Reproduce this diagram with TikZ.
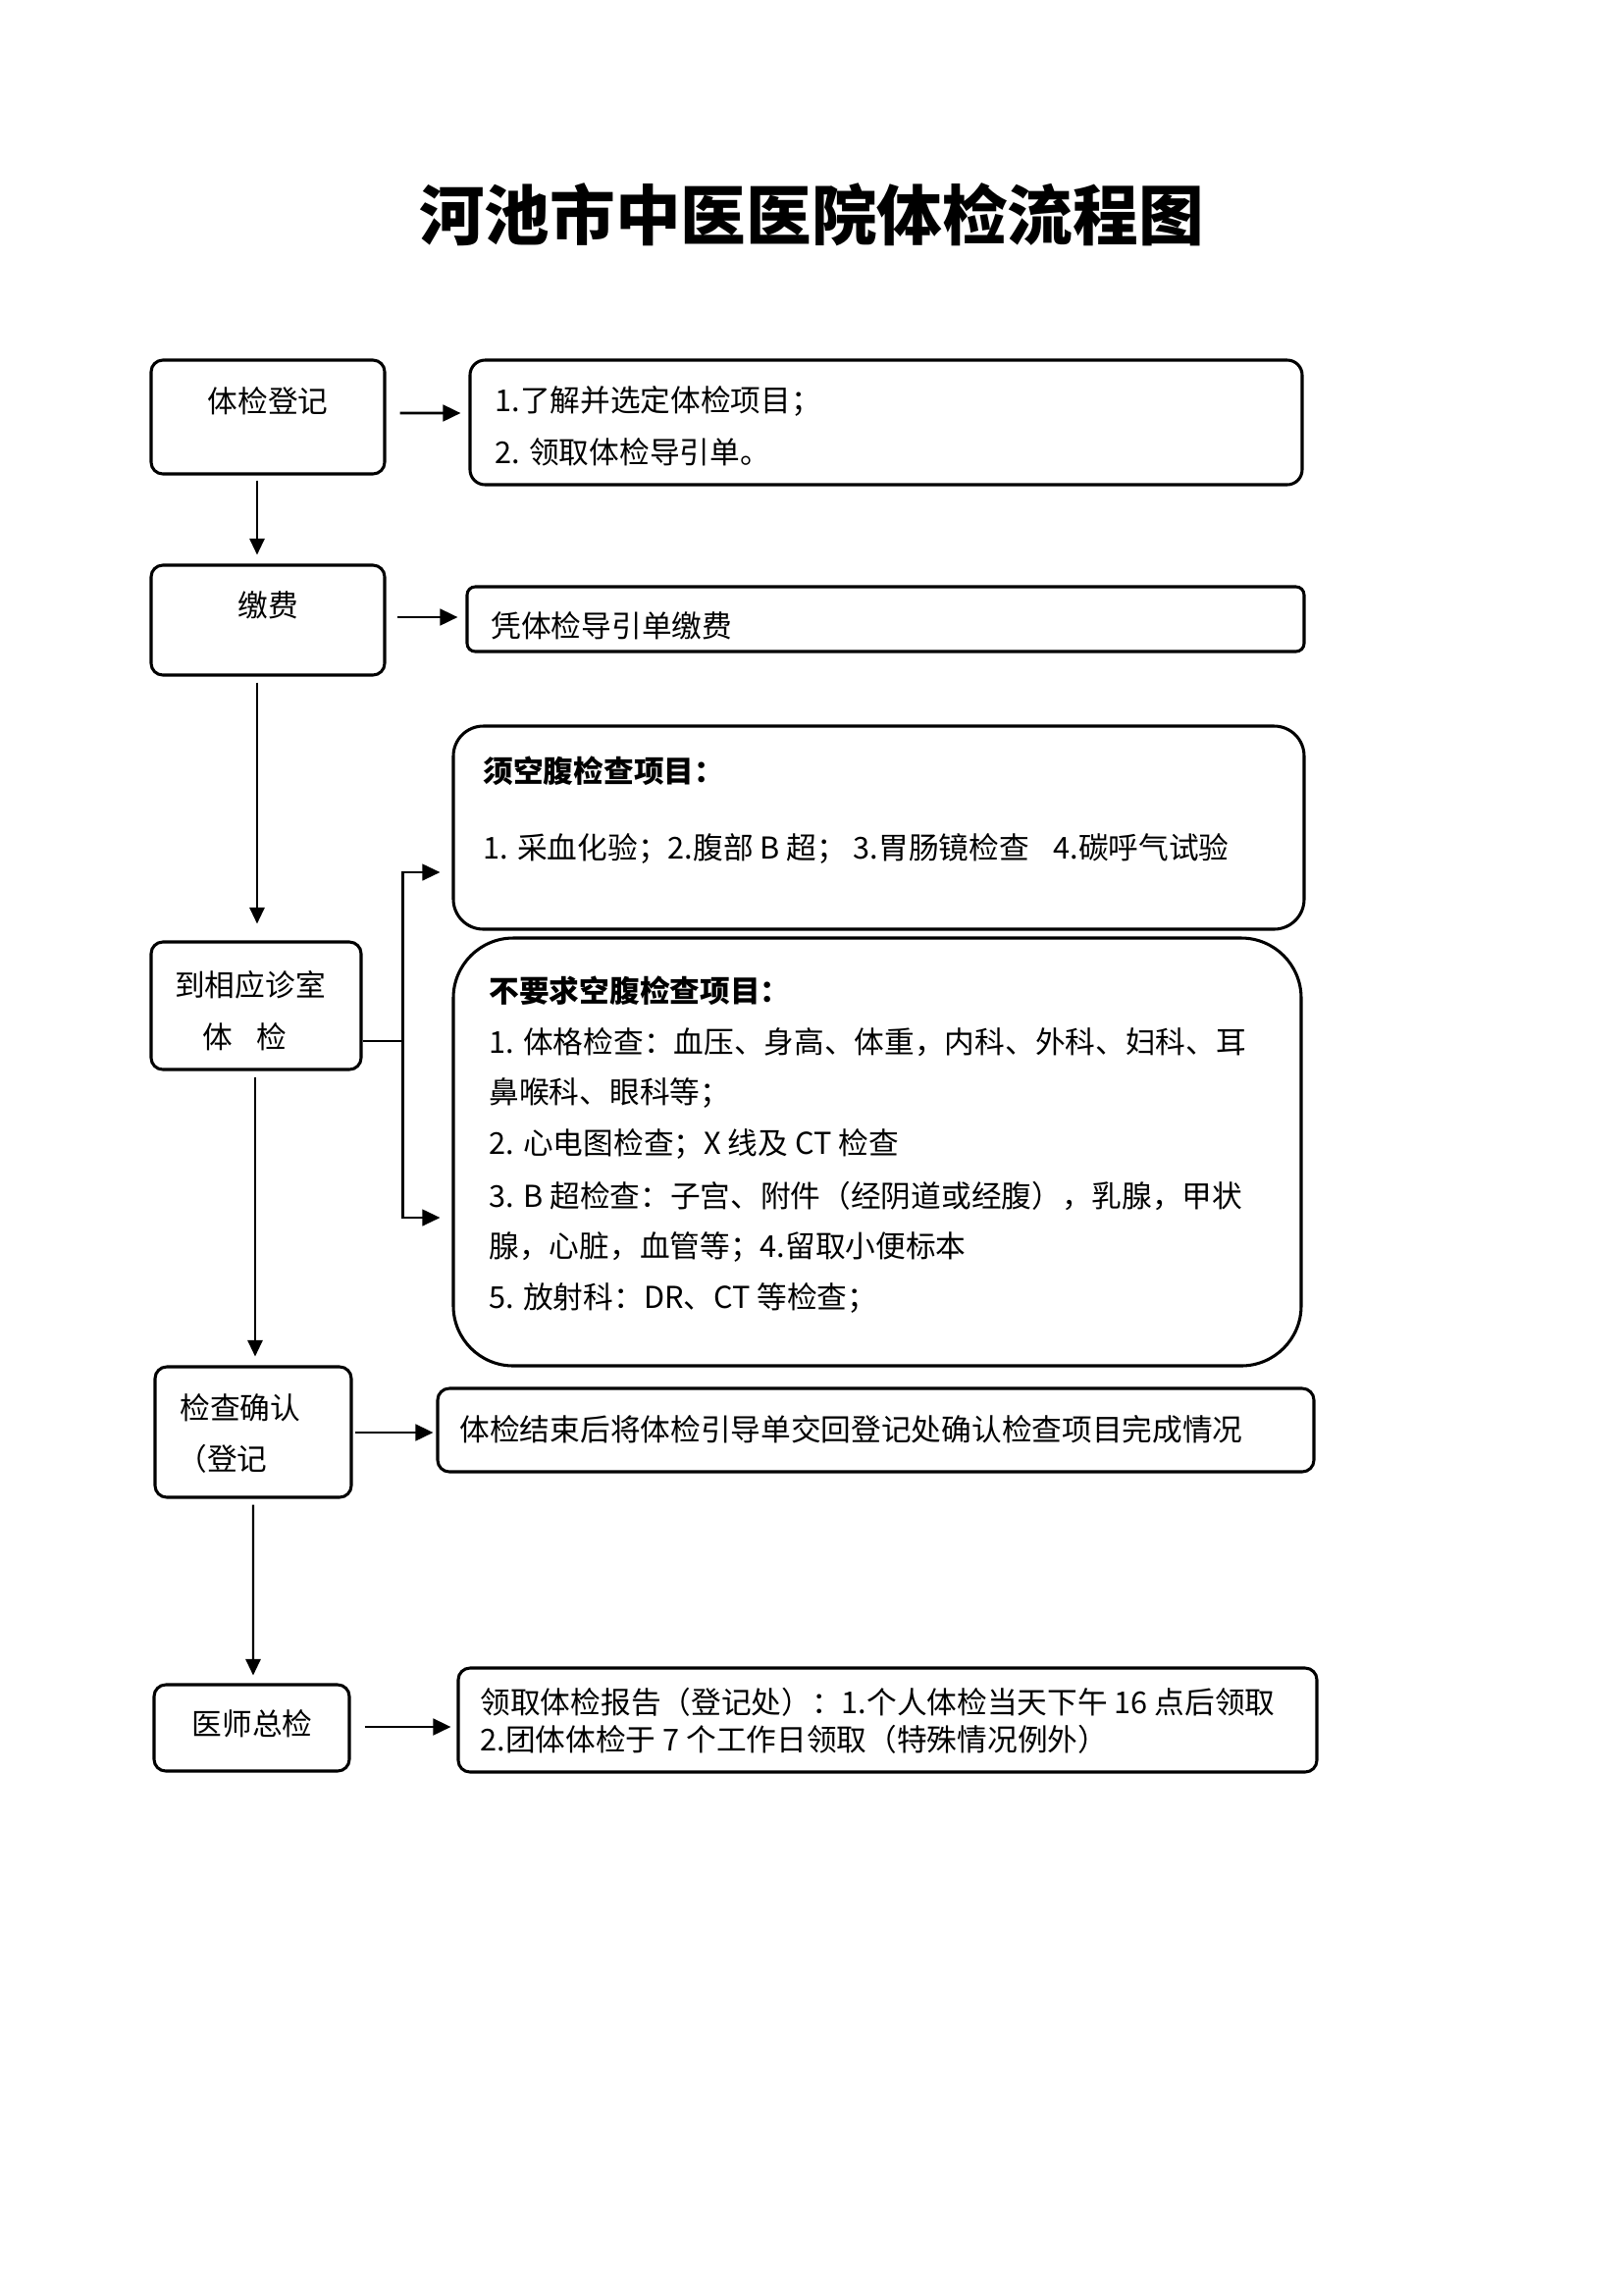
\documentclass[tikz,border=0pt]{standalone}
\usepackage{fontspec}
\newfontfamily\cjk{Noto Sans CJK SC}
\usetikzlibrary{arrows.meta,fit}
\begin{document}
\begin{tikzpicture}[x=0.36pt,y=-0.36pt,
  font=\cjk\fontsize{11.05}{13}\selectfont,
  box/.style={draw,line width=1.1pt,inner sep=0pt,rounded corners=4.3pt},
  txt/.style={inner sep=0pt,anchor=west},
  ctxt/.style={inner sep=0pt,anchor=center},
  harr/.style={line width=1pt,-{Triangle[length=6.5pt,width=6pt]}},
  varr/.style={line width=0.8pt,-{Triangle[length=6pt,width=5.5pt]}},
  conn/.style={line width=0.8pt}]
\useasboundingbox (0,0) rectangle (1654,2339);

% title
\node[ctxt,font=\cjk\bfseries\fontsize{24}{28}\selectfont] (title) at (827,219) {河池市中医医院体检流程图};

% boxes
\node[box,fit={(154,367) (392,483)}] (reg) {};
\node[box,rounded corners=5.5pt,fit={(479,367) (1327,494)}] (regR) {};
\node[box,fit={(154,576) (392,688)}] (pay) {};
\node[box,rounded corners=3pt,fit={(476,598) (1329,664)}] (payR) {};
\node[box,fit={(154,960) (368,1090)}] (exam) {};
\node[box,rounded corners=11pt,fit={(462,740) (1329,947)}] (fast) {};
\node[box,rounded corners=22pt,fit={(462,956) (1326,1392)}] (nofast) {};
\node[box,fit={(158,1393) (358,1526)}] (conf) {};
\node[box,fit={(446,1415) (1339,1500)}] (confR) {};
\node[box,fit={(157,1717) (356,1805)}] (final) {};
\node[box,fit={(467,1700) (1342,1806)}] (finalR) {};

% texts
\node[ctxt] (t1) at (273,409) {体检登记};
\node[txt] (r1a) at (504,409) {1.了解并选定体检项目；};
\node[txt] (r1b) at (504,461) {2. 领取体检导引单。};
\node[ctxt] (t2) at (273,617) {缴费};
\node[txt] (r2) at (500,638) {凭体检导引单缴费};
\node[txt,font=\cjk\bfseries\fontsize{11.05}{13}\selectfont] (f0) at (492,786) {须空腹检查项目：};
\node[txt] (f1) at (492,865) {1. 采血化验；2.腹部 B 超； 3.胃肠镜检查\hspace{0.8em}4.碳呼气试验};
\node[ctxt] (t3a) at (255,1004) {到相应诊室};
\node[ctxt] (t3b) at (249,1057) {体\hspace{0.8em}检};
\node[txt,font=\cjk\bfseries\fontsize{11.05}{13}\selectfont] (n0) at (498,1010) {不要求空腹检查项目：};
\node[txt] (n1) at (498,1062) {1. 体格检查：血压、身高、体重，内科、外科、妇科、耳};
\node[txt] (n2) at (498,1114) {鼻喉科、眼科等；};
\node[txt] (n3) at (498,1166) {2. 心电图检查；X 线及 CT 检查};
\node[txt] (n4) at (498,1219) {3. B 超检查：子宫、附件（经阴道或经腹），乳腺，甲状};
\node[txt] (n5) at (498,1271) {腺，心脏，血管等；4.留取小便标本};
\node[txt] (n6) at (498,1323) {5. 放射科：DR、CT 等检查；};
\node[txt] (t4a) at (183,1435) {检查确认};
\node[txt] (t4b) at (180,1487) {（登记};
\node[txt] (r4) at (468,1457) {体检结束后将体检引导单交回登记处确认检查项目完成情况};
\node[ctxt] (t5) at (257,1757) {医师总检};
\node[txt] (r5a) at (489,1735) {领取体检报告（登记处）：1.个人体检当天下午 16 点后领取};
\node[txt] (r5b) at (489,1773) {2.团体体检于 7 个工作日领取（特殊情况例外）};

% connectors
\draw[harr] ([shift={(14,-4)}]reg.east) -- ([shift={(-8,-9.5)}]regR.west);
\draw[harr] ([shift={(11,-3)}]pay.east) -- ([shift={(-8,-2)}]payR.west);
\draw[varr] ([shift={(-11,5)}]reg.south) -- ([shift={(-11,-9)}]pay.north);
\draw[varr] ([shift={(-11,6)}]pay.south) -- ([shift={(1,-17)}]exam.north);
\coordinate (bx) at ([shift={(41,36)}]exam.east);
\draw[conn] ([shift={(0,36)}]exam.east) -- (bx);
\draw[harr,line width=0.8pt] (bx) |- ([shift={(-12,45.5)}]fast.west);
\draw[harr,line width=0.8pt] (bx) |- ([shift={(-12,67)}]nofast.west);
\draw[varr] ([shift={(-1,6)}]exam.south) -- ([shift={(2,-9)}]conf.north);
\draw[harr] ([shift={(2,0.5)}]conf.east) -- ([shift={(-3,2.5)}]confR.west);
\draw[varr] ([shift={(0,6)}]conf.south) -- ([shift={(1.5,-8)}]final.north);
\draw[harr] ([shift={(14,-1)}]final.east) -- ([shift={(-6,7)}]finalR.west);
\end{tikzpicture}
\end{document}
